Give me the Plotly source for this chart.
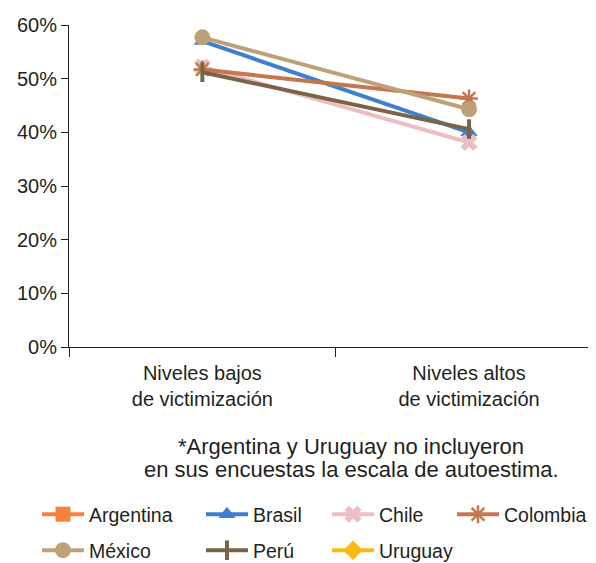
import plotly.graph_objects as go

categories = ["Niveles bajos<br>de victimización", "Niveles altos<br>de victimización"]
countries = ["Argentina", "Brasil", "Chile", "Colombia", "México", "Perú", "Uruguay"]
argentina = [None, None]
brasil = [0.570, 0.400]
chile = [0.522, 0.381]
colombia = [0.517, 0.463]
mexico = [0.577, 0.443]
peru = [0.512, 0.406]
uruguay = [None, None]
yticks = [0, 0.1, 0.2, 0.3, 0.4, 0.5, 0.6]
note_lines = ["*Argentina y Uruguay no incluyeron", "en sus encuestas la escala de autoestima."]

series = [argentina, brasil, chile, colombia, mexico, peru, uruguay]
colors = ["#F5823A", "#3F7FD0", "#ECBEC3", "#C4774F", "#BFA179", "#7A6447", "#FDB913"]
symbols = ["square", "triangle-up", "x", "asterisk-open", "circle", "line-ns", "diamond"]
msizes = [15, 15, 15, 15, 16, 14, 15]
mlw = [0, 0, 0, 2.5, 0, 4, 0]

FONT = "Liberation Sans"
TXT = "#231F20"
OFF = 8  # page body margin
W, H = 596 - OFF, 563 - OFF
# screen-pixel targets converted to figure pixels
ml = 69 - OFF
mt = 25 - OFF
mr = 0
mb = H - (347 - OFF)
pw, ph = W - ml - mr, H - mt - mb

def px_x(x):
    return (x - OFF - ml) / pw

def px_y(y):
    return (H - mb - (y - OFF)) / ph

# legend: screen x where symbol line starts, screen row centre
leg_cols = [42, 206, 332, 457, 42, 206, 332]
leg_rows = [515, 515, 515, 515, 551, 551, 551]

fig = go.Figure()
for i, (name, vals) in enumerate(zip(countries, series)):
    lname = "legend" if i == 0 else f"legend{i+1}"
    fig.add_trace(go.Scatter(
        x=categories, y=vals, name=name, mode="lines+markers",
        line=dict(color=colors[i], width=4),
        marker=dict(symbol=symbols[i], size=msizes[i], color=colors[i],
                    line=dict(color=colors[i], width=mlw[i])),
        legend=lname, cliponaxis=False,
    ))

layout_legends = {}
for i, (sx, sy) in enumerate(zip(leg_cols, leg_rows)):
    lname = "legend" if i == 0 else f"legend{i+1}"
    lx = sx - 5 - OFF
    ly = sy - 20 - OFF
    layout_legends[lname] = dict(
        x=lx / W, y=1 - ly / H, xref="container", yref="container",
        xanchor="left", yanchor="top",
        orientation="v", bgcolor="rgba(0,0,0,0)", itemwidth=42,
        font=dict(family=FONT, size=19.5, color=TXT),
    )

annotations = []
for line, yy in zip(note_lines, [446, 469]):
    annotations.append(dict(text=line, x=px_x(351), y=px_y(yy), xref="paper", yref="paper",
                            xanchor="center", yanchor="middle", showarrow=False,
                            font=dict(family=FONT, size=22, color=TXT)))

fig.update_layout(
    width=W, height=H,
    margin=dict(l=ml, r=mr, t=mt, b=mb, autoexpand=False),
    plot_bgcolor="white", paper_bgcolor="white",
    font=dict(family=FONT, size=20, color=TXT),
    showlegend=True,
    xaxis=dict(type="category", range=[-0.5, 1.476], tickson="boundaries",
               ticks="outside", ticklen=9, tickcolor=TXT, tickwidth=1,
               showline=True, linecolor=TXT, linewidth=1,
               showgrid=False, zeroline=False, automargin=False,
               ticklabelstandoff=8,
               tickfont=dict(family=FONT, size=20, color=TXT)),
    yaxis=dict(range=[0, 0.6], tickvals=yticks, tickformat=".0%",
               ticks="outside", ticklen=7, tickcolor=TXT, tickwidth=1,
               showline=True, linecolor=TXT, linewidth=1,
               showgrid=False, zeroline=False, automargin=False,
               ticklabelstandoff=0,
               tickfont=dict(family=FONT, size=20, color=TXT)),
    annotations=annotations,
    **layout_legends,
)

fig.write_html("out.html")
